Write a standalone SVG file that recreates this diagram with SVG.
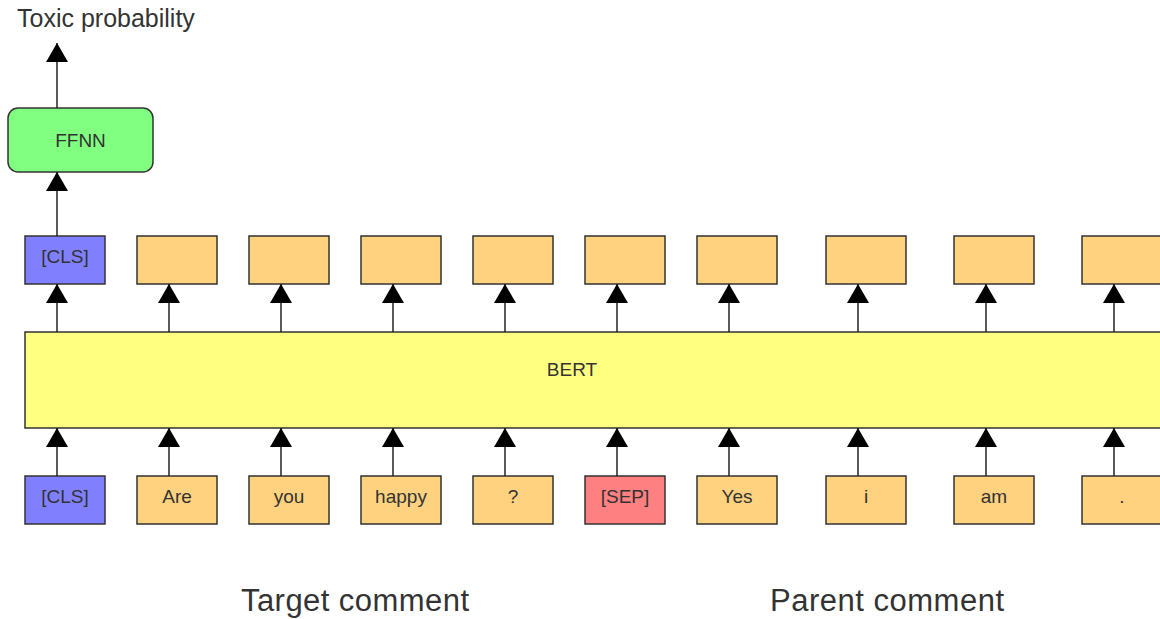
<svg xmlns="http://www.w3.org/2000/svg" width="1160" height="619" viewBox="0 0 1160 619">
  <style>
    .box { stroke: #333; stroke-width: 1.5; }
    .tok { fill: #FFD280; }
    .cls { fill: #8080FF; }
    .sep { fill: #FF8080; }
    .lbl { font-family: "Liberation Sans", Arial, sans-serif; font-size: 19px; fill: #333; text-anchor: middle; }
    .big { font-family: "Liberation Sans", Arial, sans-serif; fill: #333; }
    .edge { stroke: #222; stroke-width: 1.5; fill: none; marker-end: url(#head); }
  </style>
  <defs>
    <marker id="head" markerUnits="userSpaceOnUse" markerWidth="24" markerHeight="24" viewBox="0 0 24 24" refX="19" refY="11" orient="auto">
      <path d="M0,0 L19,11 L0,22 Z" fill="#000"/>
    </marker>
  </defs>
  <rect width="1160" height="619" fill="#fff"/>

  <!-- classifier head -->
  <g id="output-label">
    <text class="big" x="17" y="27" font-size="25">Toxic probability</text>
  </g>
  <g id="ffnn">
    <rect class="box" x="8" y="108" width="145" height="64" rx="10" fill="#80FF80"/>
    <text class="lbl" x="80.5" y="147">FFNN</text>
  </g>

  <!-- encoder -->
  <g id="bert">
    <rect class="box" x="25" y="332" width="1150" height="96" fill="#FFFF80"/>
    <text class="lbl" x="572" y="376">BERT</text>
  </g>

  <!-- output embeddings -->
  <g id="out-cls"><rect class="box cls" x="25" y="236" width="80" height="48"/><text class="lbl" x="65" y="263">[CLS]</text></g>
  <g id="out-1"><rect class="box tok" x="137" y="236" width="80" height="48"/></g>
  <g id="out-2"><rect class="box tok" x="249" y="236" width="80" height="48"/></g>
  <g id="out-3"><rect class="box tok" x="361" y="236" width="80" height="48"/></g>
  <g id="out-4"><rect class="box tok" x="473" y="236" width="80" height="48"/></g>
  <g id="out-5"><rect class="box tok" x="585" y="236" width="80" height="48"/></g>
  <g id="out-6"><rect class="box tok" x="697" y="236" width="80" height="48"/></g>
  <g id="out-7"><rect class="box tok" x="826" y="236" width="80" height="48"/></g>
  <g id="out-8"><rect class="box tok" x="954" y="236" width="80" height="48"/></g>
  <g id="out-9"><rect class="box tok" x="1082" y="236" width="80" height="48"/></g>

  <!-- input tokens -->
  <g id="in-cls"><rect class="box cls" x="25" y="476" width="80" height="48"/><text class="lbl" x="65" y="503">[CLS]</text></g>
  <g id="in-are"><rect class="box tok" x="137" y="476" width="80" height="48"/><text class="lbl" x="177" y="503">Are</text></g>
  <g id="in-you"><rect class="box tok" x="249" y="476" width="80" height="48"/><text class="lbl" x="289" y="503">you</text></g>
  <g id="in-happy"><rect class="box tok" x="361" y="476" width="80" height="48"/><text class="lbl" x="401" y="503">happy</text></g>
  <g id="in-q"><rect class="box tok" x="473" y="476" width="80" height="48"/><text class="lbl" x="513" y="503">?</text></g>
  <g id="in-sep"><rect class="box sep" x="585" y="476" width="80" height="48"/><text class="lbl" x="625" y="503">[SEP]</text></g>
  <g id="in-yes"><rect class="box tok" x="697" y="476" width="80" height="48"/><text class="lbl" x="737" y="503">Yes</text></g>
  <g id="in-i"><rect class="box tok" x="826" y="476" width="80" height="48"/><text class="lbl" x="866" y="503">i</text></g>
  <g id="in-am"><rect class="box tok" x="954" y="476" width="80" height="48"/><text class="lbl" x="994" y="503">am</text></g>
  <g id="in-dot"><rect class="box tok" x="1082" y="476" width="80" height="48"/><text class="lbl" x="1122" y="503">.</text></g>

  <!-- segment captions -->
  <g id="target-caption"><text class="big" x="241" y="611" font-size="31" textLength="228">Target comment</text></g>
  <g id="parent-caption"><text class="big" x="770" y="611" font-size="31" textLength="234">Parent comment</text></g>

  <g id="connectors">
    <!-- FFNN to output, CLS to FFNN -->
    <path class="edge" d="M57,108 V43"/>
    <path class="edge" d="M57,236 V172"/>
    <!-- BERT to output embeddings -->
    <path class="edge" d="M57,332 V284"/>
    <path class="edge" d="M169,332 V284"/>
    <path class="edge" d="M281,332 V284"/>
    <path class="edge" d="M393,332 V284"/>
    <path class="edge" d="M505,332 V284"/>
    <path class="edge" d="M617,332 V284"/>
    <path class="edge" d="M729,332 V284"/>
    <path class="edge" d="M858,332 V284"/>
    <path class="edge" d="M986,332 V284"/>
    <path class="edge" d="M1114,332 V284"/>
    <!-- input tokens to BERT -->
    <path class="edge" d="M57,476 V428"/>
    <path class="edge" d="M169,476 V428"/>
    <path class="edge" d="M281,476 V428"/>
    <path class="edge" d="M393,476 V428"/>
    <path class="edge" d="M505,476 V428"/>
    <path class="edge" d="M617,476 V428"/>
    <path class="edge" d="M729,476 V428"/>
    <path class="edge" d="M858,476 V428"/>
    <path class="edge" d="M986,476 V428"/>
    <path class="edge" d="M1114,476 V428"/>
  </g>
</svg>
